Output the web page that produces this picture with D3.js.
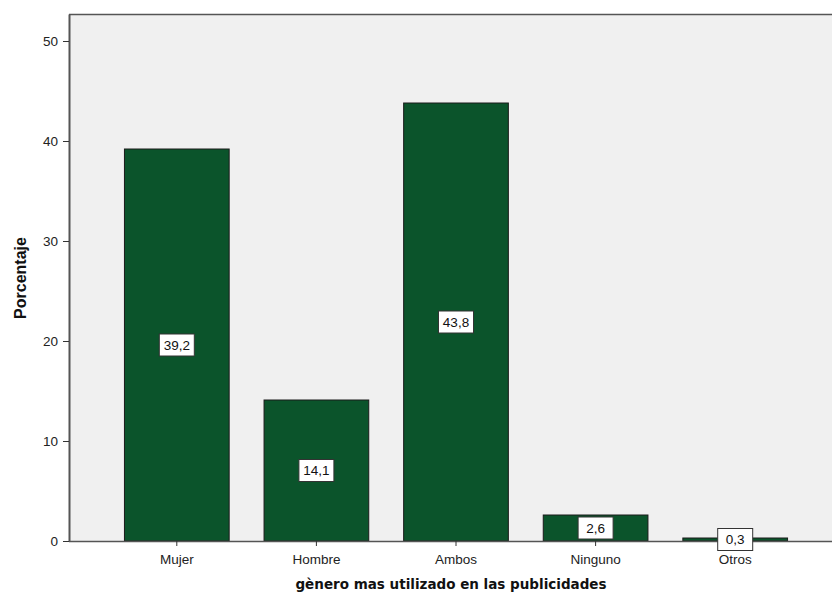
<!DOCTYPE html>
<html>
<head>
<meta charset="utf-8">
<script src="https://cdn.jsdelivr.net/npm/d3@7"></script>
<style>
  body { margin: 0; background: #fff; }
  svg { font-family: "Liberation Sans", Arial, sans-serif; }
</style>
</head>
<body>
<svg id="chart" width="832" height="600"></svg>
<script>
// data
const categories = ["Mujer", "Hombre", "Ambos", "Ninguno", "Otros"];
const values = [39.2, 14.1, 43.8, 2.6, 0.3];
const labels = ["39,2", "14,1", "43,8", "2,6", "0,3"];
const yTicks = [0, 10, 20, 30, 40, 50];

const svg = d3.select("#chart");
const plot = {left: 69, right: 832, top: 14, bottom: 541};

var x = d3.scaleBand().domain(categories).range([107, 805]).paddingInner(0.25).paddingOuter(0.125);
var y = d3.scaleLinear().domain([0, 52.7]).range([plot.bottom, plot.top]);

// background
svg.append("rect")
  .attr("x", plot.left).attr("y", plot.top)
  .attr("width", plot.right - plot.left).attr("height", plot.bottom - plot.top)
  .attr("fill", "#f0f0f0");

// top border
svg.append("line")
  .attr("x1", plot.left).attr("x2", plot.right)
  .attr("y1", plot.top + 0.5).attr("y2", plot.top + 0.5)
  .attr("stroke", "#555").attr("stroke-width", 1.5);

// bars
const rows = categories.map((c, i) => ({cat: c, val: values[i], lab: labels[i]}));
svg.selectAll("rect.bar")
  .data(rows)
  .enter()
  .append("rect")
    .attr("class", "bar")
    .attr("x", d => x(d.cat))
    .attr("y", d => y(d.val))
    .attr("width", x.bandwidth())
    .attr("height", d => y(0) - y(d.val))
    .attr("fill", "#0b542b")
    .attr("stroke", "#1a1a1a")
    .attr("stroke-width", 1);

// y axis
var yAxis = d3.axisLeft(y).tickValues(yTicks).tickSize(6).tickPadding(5).tickSizeOuter(0);
const gy = svg.append("g")
  .attr("transform", `translate(${plot.left},0)`)
  .call(yAxis);
gy.select(".domain").attr("stroke", "#555").attr("stroke-width", 2);
gy.selectAll(".tick line").attr("stroke", "#333");
gy.selectAll(".tick text").attr("font-size", 13.5).attr("fill", "#222").attr("font-family", "Liberation Sans, Arial, sans-serif");

// x axis
var xAxis = d3.axisBottom(x).tickSize(5).tickPadding(8).tickSizeOuter(0);
const gx = svg.append("g")
  .attr("transform", `translate(0,${plot.bottom})`)
  .call(xAxis);
gx.select(".domain").attr("d", `M${plot.left},0.5H${plot.right}`).attr("stroke", "#555").attr("stroke-width", 1.5);
gx.selectAll(".tick line").attr("stroke", "#333");
gx.selectAll(".tick text").attr("font-size", 13.5).attr("fill", "#222").attr("font-family", "Liberation Sans, Arial, sans-serif");

// value labels
const lg = svg.selectAll("g.lab")
  .data(rows)
  .enter()
  .append("g")
    .attr("class", "lab")
    .attr("transform", d => `translate(${x(d.cat) + x.bandwidth() / 2},${y(d.val / 2)})`);
lg.append("rect")
  .attr("x", -17.5).attr("y", -11).attr("width", 35).attr("height", 22)
  .attr("fill", "#fff").attr("stroke", "#333").attr("stroke-width", 1);
lg.append("text")
  .attr("text-anchor", "middle").attr("dy", "0.36em")
  .attr("font-size", 13.5).attr("fill", "#111")
  .text(d => d.lab);

// axis titles
svg.append("text")
  .attr("x", 451).attr("y", 589)
  .attr("text-anchor", "middle")
  .attr("font-size", 13.5).attr("font-weight", "bold").attr("fill", "#111")
  .attr("font-family", "DejaVu Sans, sans-serif")
  .text("gènero mas utilizado en las publicidades");

svg.append("text")
  .attr("transform", "translate(26,278) rotate(-90)")
  .attr("text-anchor", "middle")
  .attr("font-size", 16).attr("font-weight", "bold").attr("fill", "#111")
  .attr("font-family", "Liberation Sans, Arial, sans-serif")
  .text("Porcentaje");
</script>
</body>
</html>
